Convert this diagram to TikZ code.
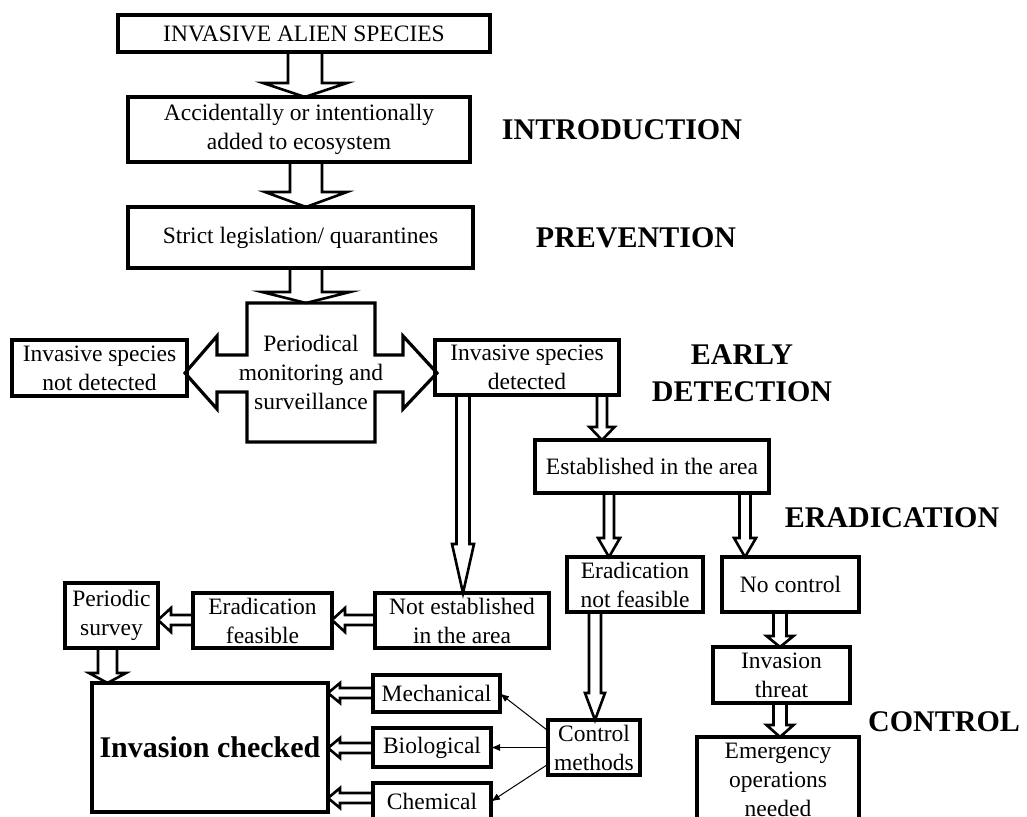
\documentclass[tikz,border=0pt]{standalone}
\usepackage{fontspec}
\setmainfont{Liberation Serif}
\usepackage{tikz}
\usetikzlibrary{arrows.meta, calc}

% hollow block arrow, downwards: from, to, x, half shaft, half head, head length
\newcommand{\blockv}[6]{%
	\draw[blockarrow] let \p1=(#1.south), \p2=(#2.north) in
	({#3pt-#4pt},\y1) -- ({#3pt-#4pt},{\y2+#6pt}) -- ({#3pt-#5pt},{\y2+#6pt})
	-- (#3pt,\y2) -- ({#3pt+#5pt},{\y2+#6pt}) -- ({#3pt+#4pt},{\y2+#6pt})
	-- ({#3pt+#4pt},\y1);}
% hollow block arrow, leftwards: from, to, y, half shaft, half head, head length
\newcommand{\blockh}[6]{%
	\draw[blockarrow] let \p1=(#1.west), \p2=(#2.east) in
	(\x1,{-#3pt+#4pt}) -- ({\x2+#6pt},{-#3pt+#4pt}) -- ({\x2+#6pt},{-#3pt+#5pt})
	-- (\x2,-#3pt) -- ({\x2+#6pt},{-#3pt-#5pt}) -- ({\x2+#6pt},{-#3pt-#4pt})
	-- (\x1,{-#3pt-#4pt});}

\begin{document}
\begin{tikzpicture}[
		x=1pt, y=1pt,
		box/.style 2 args={draw, rectangle, line width=3.2pt, inner sep=1pt, outer sep=0pt,
			minimum width=#1pt, minimum height=#2pt, align=center,
			font=\fontsize{23.5}{29}\selectfont},
		stage/.style={font=\bfseries\fontsize{30}{37}\selectfont, align=center},
		blockarrow/.style={line width=2.6pt, line join=miter},
		ctrlline/.style={->, line width=1pt},
		>={Latex[length=9pt,width=7pt]}
		]
		\useasboundingbox (0,0) rectangle (1027,-816);
		
		\node[box={372}{37}] (alien) at (304,-33.5) {INVASIVE ALIEN SPECIES};
		\node[box={342}{65}] (added) at (299,-129.5) {Accidentally or intentionally\\added to ecosystem};
		\node[box={345}{61}] (law) at (300.5,-237.5) {Strict legislation/ quarantines};
		\node[stage] (intro) at (622,-130) {INTRODUCTION};
		\node[stage] (prev) at (636,-238) {PREVENTION};
		
		% monitoring box with its two side arrows as one outline
		\node[box={128}{139}, draw=none] (mon) at (311,-372.5) {Periodical\\monitoring and\\surveillance};
		\draw[line width=3.2pt, line join=miter] (247,-303) -- (375,-303) -- (375,-355) -- (403,-355)
			-- (403,-336) -- (437,-373) -- (403,-409) -- (403,-392) -- (375,-392) -- (375,-442)
			-- (247,-442) -- (247,-392) -- (217,-392) -- (217,-409) -- (185,-373) -- (217,-336)
			-- (217,-355) -- (247,-355) -- cycle;
		\node[box={175}{56}] (notdet) at (99.5,-368) {Invasive species\\not detected};
		\node[box={184}{55}] (det) at (527,-367.5) {Invasive species\\detected};
		\node[stage] (early) at (742,-373.5) {EARLY\\DETECTION};
		
		\node[box={234}{53}] (estab) at (652,-466.5) {Established in the area};
		\node[stage] (erad) at (892,-518) {ERADICATION};
		\node[box={136}{55}] (notfeas) at (635,-584.5) {Eradication\\not feasible};
		\node[box={137}{55}] (nocontrol) at (790.5,-584.5) {No control};
		\node[box={137}{56}] (threat) at (781.5,-675) {Invasion\\threat};
		\node[box={162}{86}] (emerg) at (778,-780) {Emergency\\operations\\needed};
		\node[stage] (control) at (944,-722) {CONTROL};
		
		\node[box={174}{55}] (notestab) at (462,-620.5) {Not established\\in the area};
		\node[box={139}{55}] (eradfeas) at (262.5,-620.5) {Eradication\\feasible};
		\node[box={93}{65}] (survey) at (111.5,-615.5) {Periodic\\survey};
		\node[box={236}{129}, font=\bfseries\fontsize{30}{36}\selectfont] (checked) at (210,-747.5) {Invasion checked};
		\node[box={127}{37}] (mech) at (436.5,-693.5) {Mechanical};
		\node[box={118}{39}] (bio) at (432,-747.5) {Biological};
		\node[box={118}{37}] (chem) at (432,-801.5) {Chemical};
		\node[box={92}{55}] (ctrl) at (594,-747.5) {Control\\methods};
		
		\blockv{alien}{added}{305}{17}{42}{14}
		\blockv{added}{law}{306}{16}{41}{15}
		\blockv{law}{mon}{306}{16}{44}{11}
		\blockv{det}{notestab}{463}{6.5}{11}{49}
		\blockv{det}{estab}{602}{5}{12.5}{13}
		\blockv{estab}{notfeas}{609}{5}{11}{19}
		\blockv{estab}{nocontrol}{745}{5.5}{11}{19}
		\blockv{notfeas}{ctrl}{595}{6}{10}{27}
		\blockv{nocontrol}{threat}{780}{6.5}{13.5}{11}
		\blockv{threat}{emerg}{780}{6.5}{13.5}{12}
		\blockv{survey}{checked}{107.5}{9.5}{18.5}{10}
		\blockh{notestab}{eradfeas}{620}{5}{12}{13}
		\blockh{eradfeas}{survey}{620}{5}{12}{13}
		\foreach \m/\ypos in {mech/693, bio/748, chem/798}
			\blockh{\m}{checked}{\ypos}{5}{10}{12};
		
		\foreach \m/\a in {mech/160, bio/180, chem/200}
			\draw[ctrlline] (ctrl.\a) -- (\m.east);
\end{tikzpicture}
\end{document}
